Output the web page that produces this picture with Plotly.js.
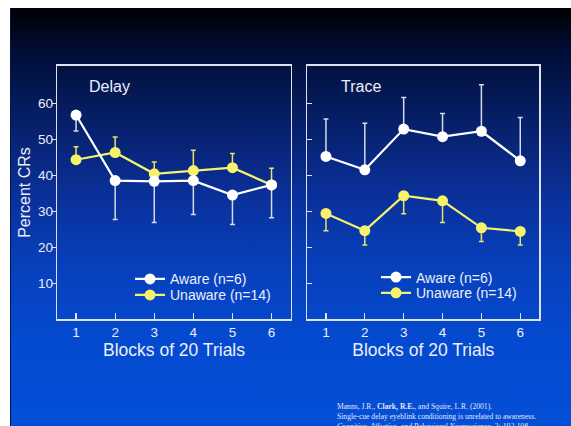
<!DOCTYPE html>
<html>
<head>
<meta charset="utf-8">
<script src="https://cdn.plot.ly/plotly-3.0.1.min.js"></script>
<style>
  html, body { margin: 0; padding: 0; background: #ffffff; }
  #slide {
    position: absolute; left: 10px; top: 8px; width: 561px; height: 418px;
    border-left: 1.5px solid #001650;
    background: linear-gradient(to bottom, #000000 0%, #020d35 10%, #061d62 25%, #0a309a 45%, #0740bc 62%, #044ad0 80%, #034fd6 100%);
  }
  #chart { position: absolute; left: 0; top: 0; width: 571px; height: 426px; }
</style>
</head>
<body>
<div id="slide"></div>
<div id="chart"></div>
<script>
// Eyeblink conditioning: percent conditioned responses per block of 20 trials
const blocks = [1, 2, 3, 4, 5, 6];
const blockLabels = ['1', '2', '3', '4', '5', '6'];
const yTickVals = [10, 20, 30, 40, 50, 60];

// Delay conditioning
const delayAware = [56.7, 38.5, 38.3, 38.5, 34.5, 37.3];
const delayAwareErr = [4.4, 10.8, 11.4, 9.4, 8.2, 9.1];
const delayUnaware = [44.3, 46.3, 40.4, 41.3, 42.1, 37.3];
const delayUnawareErr = [3.6, 4.3, 3.3, 5.6, 3.9, 4.6];

// Trace conditioning
const traceAware = [45.2, 41.5, 52.8, 50.7, 52.2, 44.0];
const traceAwareErr = [10.4, 12.9, 8.8, 6.4, 12.9, 12.0];
const traceUnaware = [29.4, 24.6, 34.3, 32.9, 25.4, 24.4];
const traceUnawareErr = [4.8, 4.0, 5.0, 6.0, 3.8, 3.8];

const W = 571, H = 426;
const px = v => v / W;
const py = v => 1 - v / H;
const zeros = blocks.map(() => 0);

const FONT = 'Liberation Sans, Arial, sans-serif';
const TXT = '#eceff8';
const WHITE = '#ffffff';
const YELLOW = '#f6f26c';
const AXLINE = '#dde2ee';

function series(name, x, y, errUp, errDown, color, errColor, xa, ya, legend) {
  return {
    type: 'scatter', mode: 'lines+markers', name: name,
    x: x, y: y, xaxis: xa, yaxis: ya, legend: legend,
    line: { color: color, width: 2.2 },
    marker: { color: color, size: 11 },
    error_y: {
      type: 'data', symmetric: false, array: errUp, arrayminus: errDown,
      color: errColor, thickness: 1.5, width: 2.5
    }
  };
}

const data = [
  series('Unaware (n=14)', blocks, delayUnaware, delayUnawareErr, zeros, YELLOW, '#e6e46a', 'x', 'y', 'legend2'),
  series('Aware (n=6)', blocks, delayAware, zeros, delayAwareErr, WHITE, '#d4dbea', 'x', 'y', 'legend'),
  series('Unaware (n=14)', blocks, traceUnaware, zeros, traceUnawareErr, YELLOW, '#e6e46a', 'x2', 'y2', 'legend4'),
  series('Aware (n=6)', blocks, traceAware, traceAwareErr, zeros, WHITE, '#d4dbea', 'x2', 'y2', 'legend3')
];

const yDomain = [py(319.3), py(65.7)];
const xRange = [0.52, 6.49];
const yRange = [0, 70.4];

function xAxis(domain, anchor) {
  return {
    domain: domain, anchor: anchor, range: xRange,
    tickvals: blocks, ticktext: blockLabels,
    ticks: 'inside', ticklen: 6, tickwidth: 1.3, tickcolor: AXLINE,
    showline: true, mirror: true, linecolor: AXLINE, linewidth: 1.6,
    showgrid: false, zeroline: false,
    tickfont: { family: FONT, size: 13.5, color: TXT },
    title: { text: 'Blocks of 20 Trials', font: { family: FONT, size: 17.5, color: TXT }, standoff: 2 }
  };
}

// one single-entry legend per key row, so each row sits where it belongs
function legendBox(left, top) {
  return {
    x: px(left), y: py(top), xanchor: 'left', yanchor: 'top',
    bgcolor: 'rgba(0,0,0,0)', borderwidth: 0,
    font: { family: FONT, size: 14, color: TXT }
  };
}

const layout = {
  width: W, height: H,
  margin: { l: 0, r: 0, t: 0, b: 0 },
  paper_bgcolor: 'rgba(0,0,0,0)',
  plot_bgcolor: 'rgba(0,0,0,0)',
  font: { family: FONT, color: TXT },
  xaxis: xAxis([px(57.3), px(290.7)], 'y'),
  xaxis2: xAxis([px(307.3), px(539.3)], 'y2'),
  yaxis: {
    domain: yDomain, anchor: 'x', range: yRange, tickvals: yTickVals,
    ticks: 'outside', ticklen: 4, tickwidth: 1.3, tickcolor: AXLINE,
    ticklabelstandoff: -4,
    showline: true, mirror: true, linecolor: AXLINE, linewidth: 1.6,
    showgrid: false, zeroline: false,
    tickfont: { family: FONT, size: 13.5, color: TXT },
    title: { text: 'Percent CRs', font: { family: FONT, size: 16, color: TXT }, standoff: 3 }
  },
  // inner half of the left-panel ticks (they cross the frame)
  yaxis3: {
    overlaying: 'y', anchor: 'x', side: 'left', range: yRange, tickvals: yTickVals,
    ticks: 'inside', ticklen: 6, tickwidth: 1.3, tickcolor: AXLINE,
    showticklabels: false, showline: false, showgrid: false, zeroline: false
  },
  yaxis2: {
    domain: yDomain, anchor: 'x2', range: yRange, tickvals: yTickVals,
    ticks: 'inside', ticklen: 5, tickwidth: 1.3, tickcolor: AXLINE,
    showticklabels: false,
    showline: true, mirror: true, linecolor: AXLINE, linewidth: 1.6,
    showgrid: false, zeroline: false
  },
  legend: legendBox(130, 263.3),
  legend2: legendBox(130, 279.3),
  legend3: legendBox(376, 261.5),
  legend4: legendBox(376, 277.2),
  annotations: [
    { text: 'Delay', xref: 'paper', yref: 'paper', x: px(86.5), y: py(86),
      xanchor: 'left', yanchor: 'middle', showarrow: false,
      font: { family: FONT, size: 16, color: TXT } },
    { text: 'Trace', xref: 'paper', yref: 'paper', x: px(338.5), y: py(86),
      xanchor: 'left', yanchor: 'middle', showarrow: false,
      font: { family: FONT, size: 16, color: TXT } },
    { text: 'Manns, J.R., <b>Clark, R.E.</b>, and Squire, L.R. (2001).<br>' +
            'Single-cue delay eyeblink conditioning is unrelated to awareness.<br>' +
            '<i>Cognitive, Affective, and Behavioral Neuroscience, 2: 192-198.</i>',
      xref: 'paper', yref: 'paper', x: px(335), y: py(399.5),
      xanchor: 'left', yanchor: 'top', align: 'left', showarrow: false,
      font: { family: 'Liberation Serif, Times New Roman, serif', size: 7.6, color: '#e4e8f4' } }
  ],
  showlegend: true
};

Plotly.newPlot('chart', data, layout, { displayModeBar: false, staticPlot: true });
</script>
</body>
</html>
